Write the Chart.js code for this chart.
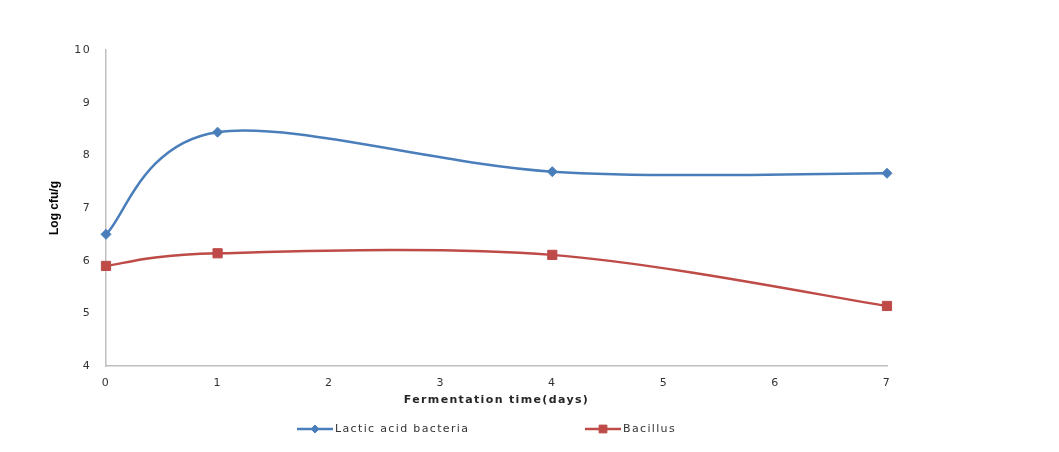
<!DOCTYPE html>
<html>
<head>
<meta charset="utf-8">
<script src="https://cdn.jsdelivr.net/npm/chart.js@4/dist/chart.umd.min.js"></script>
<style>
  html, body { margin: 0; padding: 0; background: #ffffff; }
  #wrap { position: relative; width: 1059px; height: 452px; }
</style>
</head>
<body>
<div id="wrap"><canvas id="c" width="1059" height="452"></canvas></div>
<script>
// ---- data ----
const days = [0, 1, 4, 7];
const lacticAcidBacteria = [6.5, 8.44, 7.69, 7.66];
const bacillus = [5.9, 6.14, 6.11, 5.14];
const seriesNames = ['Lactic acid bacteria', 'Bacillus'];
const yTicks = [4, 5, 6, 7, 8, 9, 10];
const xTicks = [0, 1, 2, 3, 4, 5, 6, 7];
const xTitle = 'Fermentation time(days)';
const yTitle = 'Log cfu/g';

const BLUE = '#4A7EBB';
const RED = '#BE4B48';
const SPACING = '1.35px';

function pts(xs, ys) { return xs.map((x, i) => ({ x: x, y: ys[i] })); }

// wide letter spacing like the (stretched) reference text; y title kept normal
const textSpacing = {
  id: 'textSpacing',
  beforeDraw(chart) {
    chart.ctx.letterSpacing = SPACING;
    const y = chart.scales.y;
    if (y && !y._noSpacingPatched) {
      const orig = y.drawTitle;
      y.drawTitle = function () {
        const c = this.ctx;
        c.save();
        c.letterSpacing = '0px';
        orig.apply(this, arguments);
        c.restore();
      };
      y._noSpacingPatched = true;
    }
  }
};

// spreadsheet-style smoothing: control points at +/- (next - prev) / 6
const excelSmooth = {
  id: 'excelSmooth',
  beforeDatasetsDraw(chart) {
    chart.data.datasets.forEach((ds, i) => {
      const meta = chart.getDatasetMeta(i);
      if (!meta.dataset) return;
      meta.dataset.updateControlPoints(chart.chartArea, 'x');
      const p = meta.data;
      p.forEach((pt, j) => {
        const prev = p[j - 1] || pt;
        const next = p[j + 1] || pt;
        const dx = (next.x - prev.x) / 6;
        const dy = (next.y - prev.y) / 6;
        pt.cp1x = pt.x - dx; pt.cp1y = pt.y - dy;
        pt.cp2x = pt.x + dx; pt.cp2y = pt.y + dy;
      });
    });
  }
};

// custom legend: line + marker + label, like the spreadsheet legend
const excelLegend = {
  id: 'excelLegend',
  afterDraw(chart, args, opts) {
    const ctx = chart.ctx;
    chart.data.datasets.forEach((ds, i) => {
      const x0 = opts.starts[i];
      const y = opts.y;
      const len = opts.lineLength;
      ctx.save();
      ctx.strokeStyle = ds.borderColor;
      ctx.lineWidth = ds.borderWidth;
      ctx.beginPath();
      ctx.moveTo(x0, y);
      ctx.lineTo(x0 + len, y);
      ctx.stroke();
      ctx.fillStyle = ds.backgroundColor;
      ctx.strokeStyle = ds.borderColor;
      ctx.lineWidth = 1;
      Chart.helpers.drawPoint(ctx, {
        pointStyle: ds.pointStyle,
        radius: opts.markerRadius[i],
        rotation: 0,
        borderWidth: 1
      }, x0 + len / 2, y);
      ctx.font = opts.font;
      ctx.letterSpacing = SPACING;
      ctx.fillStyle = opts.color;
      ctx.textBaseline = 'middle';
      ctx.textAlign = 'left';
      ctx.fillText(ds.label, x0 + len + 2, y);
      ctx.restore();
    });
  }
};

const ctx = document.getElementById('c').getContext('2d');
new Chart(ctx, {
  type: 'line',
  data: {
    datasets: [
      {
        label: seriesNames[0],
        data: pts(days, lacticAcidBacteria),
        borderColor: BLUE,
        backgroundColor: BLUE,
        borderWidth: 2.5,
        pointStyle: 'rectRot',
        pointRadius: 5,
        pointHoverRadius: 5,
        pointBorderWidth: 1,
        tension: 0.4,
        clip: false
      },
      {
        label: seriesNames[1],
        data: pts(days, bacillus),
        borderColor: RED,
        backgroundColor: RED,
        borderWidth: 2.5,
        pointStyle: 'rect',
        pointRadius: 6.5,
        pointHoverRadius: 6.5,
        pointBorderWidth: 1,
        tension: 0.4,
        clip: false
      }
    ]
  },
  options: {
    responsive: false,
    animation: false,
    devicePixelRatio: 1,
    layout: { padding: { left: 0, right: 172, top: 50, bottom: 0 } },
    plugins: {
      legend: { display: false },
      tooltip: { enabled: false },
      excelLegend: {
        starts: [297, 585],
        y: 429,
        lineLength: 36,
        markerRadius: [4, 5.5],
        font: '11px "DejaVu Sans"',
        color: '#333333'
      }
    },
    scales: {
      x: {
        type: 'linear',
        min: 0,
        max: 7,
        afterBuildTicks: (s) => { s.ticks = xTicks.map(v => ({ value: v })); },
        afterFit: (s) => { s.height = 86; },
        grid: { display: false, drawTicks: false },
        border: { display: true, color: '#BFBFBF', width: 1.5 },
        ticks: {
          padding: 11,
          color: '#333333',
          font: { family: 'DejaVu Sans', size: 11 },
          maxRotation: 0
        },
        title: {
          display: true,
          text: xTitle,
          color: '#262626',
          font: { family: 'DejaVu Sans', size: 11, weight: 'bold' },
          padding: { top: 0, bottom: 45 }
        }
      },
      y: {
        type: 'linear',
        min: 4,
        max: 10,
        afterBuildTicks: (s) => { s.ticks = yTicks.map(v => ({ value: v })); },
        afterFit: (s) => { s.width = 106; },
        grid: { display: false, drawTicks: false },
        border: { display: true, color: '#BFBFBF', width: 1.5 },
        ticks: {
          padding: 15,
          color: '#333333',
          font: { family: 'DejaVu Sans', size: 11 }
        },
        title: {
          display: true,
          text: yTitle,
          color: '#000000',
          font: { family: 'Liberation Sans', size: 12, weight: 'bold' },
          padding: { top: 47, bottom: 0 }
        }
      }
    }
  },
  plugins: [textSpacing, excelSmooth, excelLegend]
});
</script>
</body>
</html>
